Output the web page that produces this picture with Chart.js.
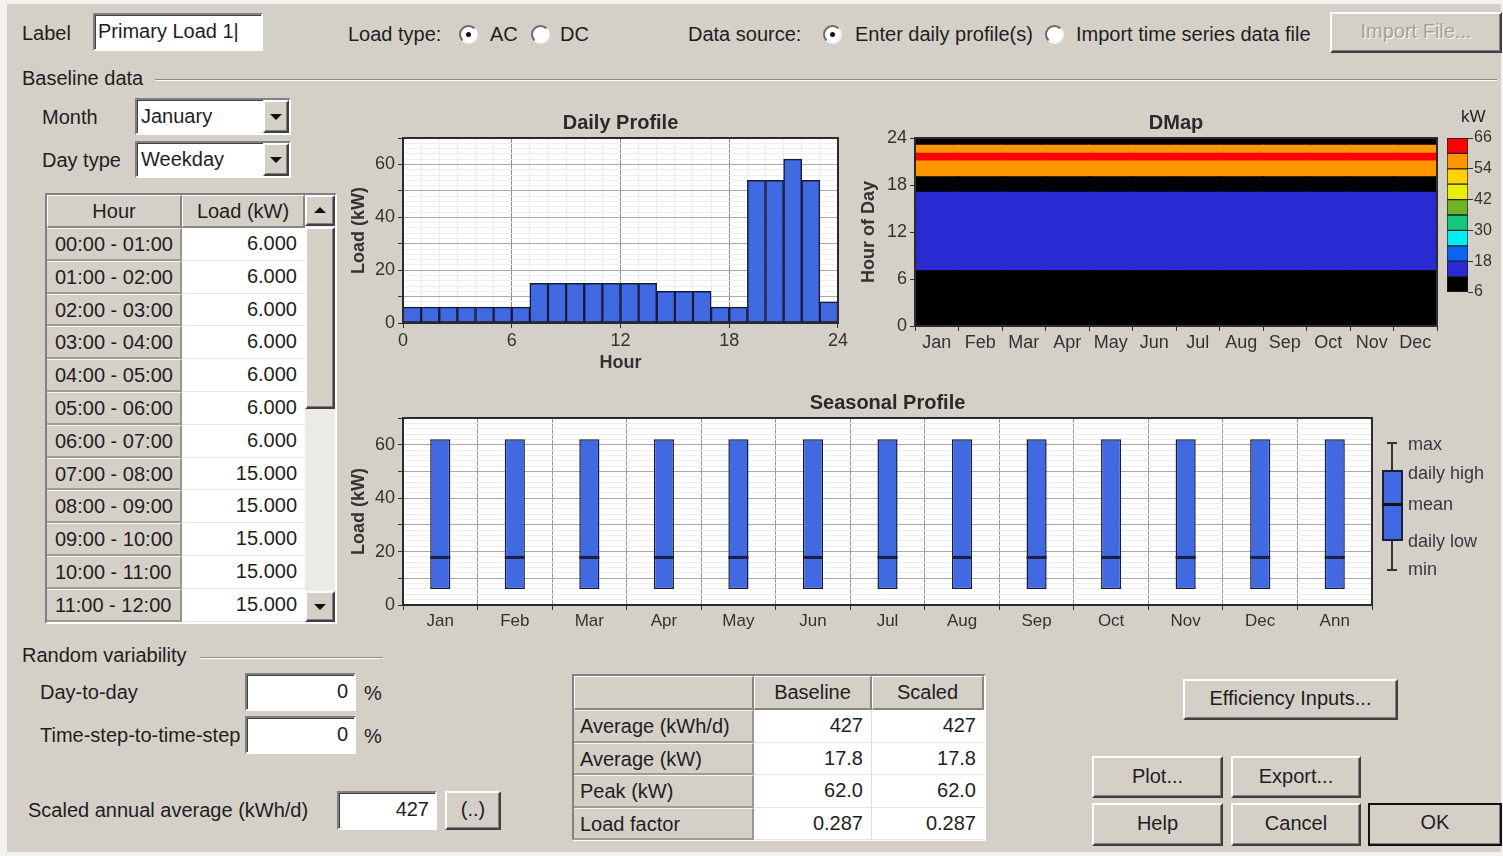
<!DOCTYPE html>
<html>
<head>
<meta charset="utf-8">
<title>Primary Load 1</title>
<script src="https://cdn.jsdelivr.net/npm/chart.js@4.4.1/dist/chart.umd.min.js"></script>
<style>
 body { margin:0; width:1503px; height:856px; background:#f2f2f0; font-family:"Liberation Sans", Arial, sans-serif; color:#1e1e1e; overflow:hidden; position:relative; }
 #dlg { position:absolute; left:7px; top:4px; width:1494px; height:848px; background:#d4d0c8; }
 .t { position:absolute; font-size:20px; line-height:26px; height:26px; white-space:nowrap; }
 .sunk { position:absolute; background:#fff; box-sizing:border-box; border-style:solid; border-width:2px; border-color:#808080 #fff #fff #808080; box-shadow: inset 1px 1px 0 #404040; }
 .btn { position:absolute; background:#d4d0c8; box-sizing:border-box; border-style:solid; border-width:2px; border-color:#fff #404040 #404040 #fff; box-shadow: inset -1px -1px 0 #808080; text-align:center; font-size:20px; white-space:nowrap; }
 .radio { position:absolute; width:19px; height:19px; border-radius:50%; background:#fff; box-sizing:border-box; border:2px solid; border-color:#6a6a6a #f4f4f4 #f4f4f4 #6a6a6a; }
 .radio.on::after { content:''; position:absolute; left:5px; top:5px; width:5px; height:5px; border-radius:50%; background:#111; }
 .rule { position:absolute; height:1px; background:#888; border-bottom:1px solid #fff; }
 .cell { position:absolute; box-sizing:border-box; font-size:20px; white-space:nowrap; overflow:hidden; }
 .gcell { background:#d4d0c8; border-top:1px solid #f4f4f4; border-bottom:2px solid #a09c94; border-right:2px solid #9a968e; padding-left:8px; }
 .wcell { background:#fff; border-bottom:1px solid #e6e6e6; text-align:right; padding-right:8px; }
 .hcell { background:#d4d0c8; border-top:1px solid #fff; border-left:1px solid #fff; border-bottom:2px solid #8a867e; border-right:2px solid #8a867e; text-align:center; }
 .chart { position:absolute; }
 .tri-up { position:absolute; width:0; height:0; border-left:6px solid transparent; border-right:6px solid transparent; border-bottom:6px solid #111; }
 .tri-dn { position:absolute; width:0; height:0; border-left:6px solid transparent; border-right:6px solid transparent; border-top:6px solid #111; }
 .lg { position:absolute; font-size:18px; line-height:22px; color:#3a3640; white-space:nowrap; }
</style>
</head>
<body>
<div id="dlg"></div>

<!-- top row -->
<div class="t" style="left:22px;top:20px">Label</div>
<div class="sunk" style="left:93px;top:13px;width:170px;height:38px"><div class="t" style="left:3px;top:3px">Primary Load 1|</div></div>
<div class="t" style="left:348px;top:21px">Load type:</div>
<div class="radio on" style="left:459px;top:25px"></div>
<div class="t" style="left:490px;top:21px">AC</div>
<div class="radio" style="left:531px;top:25px"></div>
<div class="t" style="left:560px;top:21px">DC</div>
<div class="t" style="left:688px;top:21px">Data source:</div>
<div class="radio on" style="left:823px;top:25px"></div>
<div class="t" style="left:855px;top:21px">Enter daily profile(s)</div>
<div class="radio" style="left:1045px;top:25px"></div>
<div class="t" style="left:1076px;top:21px">Import time series data file</div>
<div class="btn" style="left:1330px;top:12px;width:172px;height:41px;line-height:35px;color:#a4a09a;text-shadow:1px 1px 0 #fff">Import File...</div>

<div class="t" style="left:22px;top:65px">Baseline data</div>
<div class="rule" style="left:155px;top:79px;width:1342px"></div>

<div class="t" style="left:42px;top:104px">Month</div>
<div class="sunk" style="left:135px;top:98px;width:156px;height:37px"><div class="t" style="left:4px;top:3px">January</div>
 <div class="btn" style="left:126px;top:0px;width:26px;height:33px"><div class="tri-dn" style="left:5px;top:12px"></div></div></div>
<div class="t" style="left:42px;top:147px">Day type</div>
<div class="sunk" style="left:135px;top:141px;width:156px;height:37px"><div class="t" style="left:4px;top:3px">Weekday</div>
 <div class="btn" style="left:126px;top:0px;width:26px;height:33px"><div class="tri-dn" style="left:5px;top:12px"></div></div></div>

<!-- hour table -->
<div class="sunk" id="hourTable" style="left:45px;top:193px;width:292px;height:431px;background:#d4d0c8"></div>

<!-- random variability -->
<div class="t" style="left:22px;top:642px">Random variability</div>
<div class="rule" style="left:200px;top:657px;width:183px"></div>
<div class="t" style="left:40px;top:679px">Day-to-day</div>
<div class="sunk" style="left:245px;top:673px;width:111px;height:38px"><div class="t" style="right:6px;top:3px">0</div></div>
<div class="t" style="left:364px;top:680px">%</div>
<div class="t" style="left:40px;top:722px">Time-step-to-time-step</div>
<div class="sunk" style="left:245px;top:716px;width:111px;height:38px"><div class="t" style="right:6px;top:3px">0</div></div>
<div class="t" style="left:364px;top:723px">%</div>
<div class="t" style="left:28px;top:797px">Scaled annual average (kWh/d)</div>
<div class="sunk" style="left:337px;top:791px;width:100px;height:39px"><div class="t" style="right:6px;top:3px">427</div></div>
<div class="btn" style="left:445px;top:791px;width:56px;height:39px;line-height:33px">(..)</div>

<!-- stats table -->
<div class="sunk" id="statsTable" style="left:572px;top:674px;width:414px;height:167px;background:#d4d0c8"></div>

<!-- buttons -->
<div class="btn" style="left:1183px;top:679px;width:215px;height:41px;line-height:35px">Efficiency Inputs...</div>
<div class="btn" style="left:1092px;top:756px;width:131px;height:42px;line-height:36px">Plot...</div>
<div class="btn" style="left:1231px;top:756px;width:130px;height:42px;line-height:36px">Export...</div>
<div class="btn" style="left:1092px;top:803px;width:131px;height:43px;line-height:37px">Help</div>
<div class="btn" style="left:1231px;top:803px;width:130px;height:43px;line-height:37px">Cancel</div>
<div class="btn" style="left:1368px;top:803px;width:134px;height:43px;line-height:35px;outline:2px solid #111;outline-offset:-2px">OK</div>

<!-- charts -->
<div class="chart" style="left:340px;top:105px;width:510px;height:275px"><canvas id="daily"></canvas></div>
<div class="chart" style="left:850px;top:105px;width:595px;height:260px"><canvas id="dmap"></canvas></div>
<div class="chart" style="left:1440px;top:105px;width:63px;height:200px"><canvas id="dmapScale"></canvas></div>
<div class="t" style="left:1461px;top:104px;font-size:17px">kW</div>
<div class="chart" style="left:340px;top:385px;width:1045px;height:250px"><canvas id="seasonal"></canvas></div>

<!-- seasonal legend -->
<div style="position:absolute;left:1391px;top:443px;width:2px;height:127px;background:#333"></div>
<div style="position:absolute;left:1387px;top:442px;width:10px;height:2px;background:#333"></div>
<div style="position:absolute;left:1387px;top:569px;width:10px;height:2px;background:#333"></div>
<div style="position:absolute;left:1382px;top:470px;width:21px;height:71px;background:#4169e1;border:2px solid #1a1f3a;box-sizing:border-box"></div>
<div style="position:absolute;left:1382px;top:503px;width:21px;height:3px;background:#111"></div>
<div class="lg" style="left:1408px;top:433px">max</div>
<div class="lg" style="left:1408px;top:462px">daily high</div>
<div class="lg" style="left:1408px;top:493px">mean</div>
<div class="lg" style="left:1408px;top:530px">daily low</div>
<div class="lg" style="left:1408px;top:558px">min</div>

<script>
// daily profile, January weekday (kW per hour)
const hourLoad = [6, 6, 6, 6, 6, 6, 6, 15, 15, 15, 15, 15, 15, 15, 12, 12, 12, 6, 6, 54, 54, 62, 54, 8];
const hourTicks = [0, 6, 12, 18, 24];
const loadTicks = [0, 20, 40, 60];

const months = ['Jan', 'Feb', 'Mar', 'Apr', 'May', 'Jun', 'Jul', 'Aug', 'Sep', 'Oct', 'Nov', 'Dec'];
const seasonCats = ['Jan', 'Feb', 'Mar', 'Apr', 'May', 'Jun', 'Jul', 'Aug', 'Sep', 'Oct', 'Nov', 'Dec', 'Ann'];
const seasonMin  = [6, 6, 6, 6, 6, 6, 6, 6, 6, 6, 6, 6, 6];
const seasonLow  = [6, 6, 6, 6, 6, 6, 6, 6, 6, 6, 6, 6, 6];
const seasonMean = [17.8, 17.8, 17.8, 17.8, 17.8, 17.8, 17.8, 17.8, 17.8, 17.8, 17.8, 17.8, 17.8];
const seasonHigh = [62, 62, 62, 62, 62, 62, 62, 62, 62, 62, 62, 62, 62];
const seasonMax  = [62, 62, 62, 62, 62, 62, 62, 62, 62, 62, 62, 62, 62];

const dmapHourTicks = [0, 6, 12, 18, 24];
const scaleLevels = [6, 12, 18, 24, 30, 36, 42, 48, 54, 60, 66];
const scaleColors = ['#000000', '#2a2ad2', '#0a64f5', '#00f0f0', '#14c882', '#6eb428', '#e6f000', '#ffd200', '#ff9600', '#ff0000'];
const scaleTicks = [6, 18, 30, 42, 54, 66];

const statsNames = ['Average (kWh/d)', 'Average (kW)', 'Peak (kW)', 'Load factor'];
const statsBaseline = ['427', '17.8', '62.0', '0.287'];
const statsScaled = ['427', '17.8', '62.0', '0.287'];
const visibleRows = 12;

const pad = n => String(n).padStart(2, '0');

// hour table
const ht = document.getElementById('hourTable');
let html = '<div class="cell hcell" style="left:0;top:0;width:135px;height:33px;line-height:30px">Hour</div>' +
  '<div class="cell hcell" style="left:135px;top:0;width:123px;height:33px;line-height:30px">Load (kW)</div>';
for (let i = 0; i < visibleRows; i++) {
  const top = 33 + i * 32.8;
  html += '<div class="cell gcell" style="left:0;top:' + top + 'px;width:135px;height:32.8px;line-height:30px">' +
    pad(i) + ':00 - ' + pad(i + 1) + ':00</div>';
  html += '<div class="cell wcell" style="left:135px;top:' + top + 'px;width:123px;height:32.8px;line-height:30px">' +
    hourLoad[i].toFixed(3) + '</div>';
}
// scrollbar
html += '<div style="position:absolute;left:258px;top:0;width:30px;height:427px;background:#eceae6"></div>';
html += '<div class="btn" style="left:258px;top:0;width:30px;height:31px"><div class="tri-up" style="left:7px;top:10px"></div></div>';
html += '<div class="btn" style="left:258px;top:32px;width:30px;height:182px"></div>';
html += '<div class="btn" style="left:258px;top:396px;width:30px;height:31px"><div class="tri-dn" style="left:7px;top:11px"></div></div>';
ht.innerHTML = html;

// stats table
const st = document.getElementById('statsTable');
html = '<div class="cell hcell" style="left:0;top:0;width:180px;height:34px"></div>' +
  '<div class="cell hcell" style="left:180px;top:0;width:118px;height:34px;line-height:31px">Baseline</div>' +
  '<div class="cell hcell" style="left:298px;top:0;width:112px;height:34px;line-height:31px">Scaled</div>';
statsNames.forEach((name, i) => {
  const top = 34 + i * 32.5;
  html += '<div class="cell gcell" style="left:0;top:' + top + 'px;width:180px;height:32.5px;line-height:30px;padding-left:6px">' + name + '</div>';
  html += '<div class="cell wcell" style="left:180px;top:' + top + 'px;width:118px;height:32.5px;line-height:30px;border-right:1px solid #ddd">' + statsBaseline[i] + '</div>';
  html += '<div class="cell wcell" style="left:298px;top:' + top + 'px;width:112px;height:32.5px;line-height:30px">' + statsScaled[i] + '</div>';
});
st.innerHTML = html;

// charts
Chart.defaults.font.family = '"Liberation Sans", Arial, sans-serif';
Chart.defaults.color = '#333';
Chart.defaults.animation = false;

const plotFrame = {
  id: 'plotFrame',
  beforeDraw(chart) {
    const a = chart.chartArea, ctx = chart.ctx;
    ctx.save();
    ctx.fillStyle = '#ffffff';
    ctx.fillRect(a.left, a.top, a.right - a.left, a.bottom - a.top);
    ctx.restore();
  },
  afterDatasetsDraw(chart) {
    const a = chart.chartArea, ctx = chart.ctx;
    ctx.save();
    ctx.strokeStyle = '#2b2b2b';
    ctx.lineWidth = 2;
    ctx.strokeRect(a.left, a.top, a.right - a.left, a.bottom - a.top);
    ctx.restore();
  }
};

const tickFont = { size: 18 };
const axisTitleFont = { size: 18, weight: 'bold' };
const titleFont = { size: 20, weight: 'bold' };

function levelColor(v) {
  let i = Math.floor((v - scaleLevels[0]) / (scaleLevels[1] - scaleLevels[0]));
  i = Math.max(0, Math.min(scaleColors.length - 1, i));
  return scaleColors[i];
}

function loadAxis(width) {
  return {
    min: 0, max: 70,
    afterFit: s => { s.width = width; },
    border: { display: false },
    ticks: { stepSize: 2, autoSkip: false, font: tickFont, padding: 3,
      callback: v => loadTicks.includes(v) ? v : '' },
    grid: { tickLength: 5,
      color: c => c.tick && c.tick.value % 10 === 0 ? '#a9a9a9' : '#eeeeee',
      tickColor: c => c.tick && c.tick.value % 10 === 0 ? '#333' : 'rgba(0,0,0,0)' },
    title: { display: true, text: 'Load (kW)', font: axisTitleFont, color: '#333', padding: { top: 8 } }
  };
}

// Daily profile
new Chart(document.getElementById('daily'), {
  type: 'bar',
  data: {
    datasets: [{
      data: hourLoad.map((v, h) => ({ x: h + 0.5, y: v })),
      backgroundColor: '#4169e1',
      borderColor: '#161b3a',
      borderWidth: 1.5,
      borderSkipped: false,
      barPercentage: 1,
      categoryPercentage: 1
    }]
  },
  options: {
    responsive: true,
    maintainAspectRatio: false,
    layout: { padding: { right: 10 } },
    plugins: {
      legend: { display: false },
      tooltip: { enabled: false },
      title: { display: true, text: 'Daily Profile', fullSize: false, font: titleFont, color: '#2a2a2a', padding: { top: 6, bottom: 3 } }
    },
    scales: {
      x: {
        type: 'linear', min: 0, max: 24, offset: false,
        afterFit: s => { s.height = 57; },
        border: { display: false },
        ticks: { stepSize: 1, autoSkip: false, maxRotation: 0, font: tickFont, padding: 2,
          callback: v => hourTicks.includes(v) ? v : '' },
        grid: { offset: false, tickLength: 5,
          color: c => c.tick && hourTicks.includes(c.tick.value) ? '#8a8a8a' : '#ececec',
          tickColor: c => c.tick && hourTicks.includes(c.tick.value) ? '#333' : 'rgba(0,0,0,0)' },
        title: { display: true, text: 'Hour', font: axisTitleFont, color: '#333', padding: { bottom: 6 } }
      },
      y: loadAxis(63)
    }
  },
  plugins: [plotFrame]
});

// DMap: one floating bar per hour for every month
new Chart(document.getElementById('dmap'), {
  type: 'bar',
  data: {
    labels: months,
    datasets: hourLoad.map((v, h) => ({
      data: months.map(() => [h, h + 1]),
      backgroundColor: levelColor(v),
      borderWidth: 0,
      inflateAmount: 1,
      grouped: false,
      barPercentage: 1,
      categoryPercentage: 1
    }))
  },
  options: {
    responsive: true,
    maintainAspectRatio: false,
    layout: { padding: { right: 8 } },
    plugins: {
      legend: { display: false },
      tooltip: { enabled: false },
      title: { display: true, text: 'DMap', fullSize: false, font: titleFont, color: '#2a2a2a', padding: { top: 6, bottom: 3 } }
    },
    scales: {
      x: {
        afterFit: s => { s.height = 39; },
        border: { display: false },
        ticks: { font: tickFont, padding: 1, maxRotation: 0, autoSkip: false },
        grid: { offset: true, drawOnChartArea: false, tickLength: 5, tickColor: '#333' }
      },
      y: {
        min: 0, max: 24,
        afterFit: s => { s.width = 65; },
        afterBuildTicks: s => { s.ticks = dmapHourTicks.map(v => ({ value: v })); },
        border: { display: false },
        ticks: { font: tickFont, padding: 3 },
        grid: { drawOnChartArea: false, tickLength: 5, tickColor: '#333' },
        title: { display: true, text: 'Hour of Day', font: axisTitleFont, color: '#333', padding: { top: 8 } }
      }
    }
  },
  plugins: [plotFrame]
});

// DMap colour scale
new Chart(document.getElementById('dmapScale'), {
  type: 'bar',
  data: {
    labels: [''],
    datasets: scaleColors.map((c, i) => ({
      data: [[scaleLevels[i], scaleLevels[i + 1]]],
      backgroundColor: c,
      borderColor: '#222',
      borderWidth: 1,
      borderSkipped: false,
      grouped: false,
      barPercentage: 1,
      categoryPercentage: 1
    }))
  },
  options: {
    responsive: true,
    maintainAspectRatio: false,
    layout: { padding: { left: 7, top: 33, bottom: 13 } },
    plugins: { legend: { display: false }, tooltip: { enabled: false } },
    scales: {
      x: { display: false },
      y: {
        position: 'right', min: 6, max: 66,
        afterFit: s => { s.width = 35; },
        afterBuildTicks: s => { s.ticks = scaleTicks.map(v => ({ value: v })); },
        border: { display: false },
        ticks: { font: { size: 16 }, padding: 1 },
        grid: { drawOnChartArea: false, tickLength: 5, tickColor: '#333' }
      }
    }
  }
});

// Seasonal profile
new Chart(document.getElementById('seasonal'), {
  type: 'bar',
  data: {
    labels: seasonCats,
    datasets: [
      {
        type: 'line',
        order: 0,
        data: seasonMean,
        showLine: false,
        pointStyle: 'line',
        pointRadius: 10,
        pointHoverRadius: 10,
        pointBorderWidth: 3,
        pointBorderColor: '#1b2040',
        borderColor: '#1b2040'
      },
      {
        order: 1,
        data: seasonCats.map((m, i) => [seasonLow[i], seasonHigh[i]]),
        backgroundColor: '#4169e1',
        borderColor: '#161b3a',
        borderWidth: 1.5,
        borderSkipped: false,
        barPercentage: 0.27,
        categoryPercentage: 1
      }
    ]
  },
  options: {
    responsive: true,
    maintainAspectRatio: false,
    layout: { padding: { right: 12 } },
    plugins: {
      legend: { display: false },
      tooltip: { enabled: false },
      title: { display: true, text: 'Seasonal Profile', fullSize: false, font: titleFont, color: '#2a2a2a', padding: { top: 6, bottom: 3 } }
    },
    scales: {
      x: {
        afterFit: s => { s.height = 30; },
        border: { display: false },
        ticks: { font: { size: 17 }, padding: 1, maxRotation: 0, autoSkip: false },
        grid: { offset: true, tickLength: 5, color: '#9a9a9a', tickColor: '#333' }
      },
      y: loadAxis(63)
    }
  },
  plugins: [plotFrame]
});
</script>
</body>
</html>
